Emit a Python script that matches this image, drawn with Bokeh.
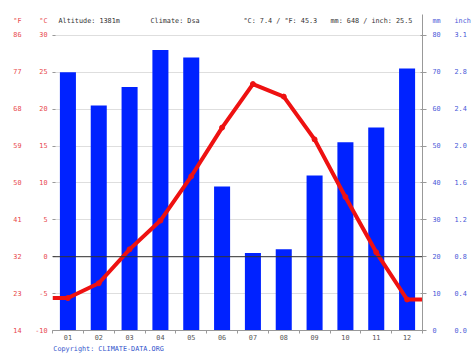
from bokeh.plotting import figure
from bokeh.models import Range1d, LinearAxis, FixedTicker, Span
from bokeh.core.properties import value
from bokeh.embed import file_html
from bokeh.resources import INLINE

months = ["01", "02", "03", "04", "05", "06", "07", "08", "09", "10", "11", "12"]
precip_mm = [70, 61, 66, 76, 74, 39, 21, 22, 42, 51, 55, 71]
temp_c = [-5.6, -3.6, 1.0, 4.9, 10.9, 17.5, 23.4, 21.7, 15.9, 8.1, 0.6, -5.8]
c_ticks = [-10, -5, 0, 5, 10, 15, 20, 25, 30]
f_labels = ["14", "23", "32", "41", "50", "59", "68", "77", "86"]
mm_ticks = [0, 10, 20, 30, 40, 50, 60, 70, 80]
inch_labels = ["0.0", "0.4", "0.8", "1.2", "1.6", "2.0", "2.4", "2.8", "3.1"]
header = ["Altitude: 1381m", "Climate: Dsa", "°C: 7.4 / °F: 45.3", "mm: 648 / inch: 25.5"]
unit_left = ["°F", "°C"]
unit_right = ["mm", "inch"]
copyright_text = "Copyright: CLIMATE-DATA.ORG"

FONT = "DejaVu Sans Mono"
FS = "6.8px"
RED = "#e8474a"
BLUE = "#4a5ad8"
W, H = 474, 355

# layout (pixels): frame 52..422 horizontally, 14..332 vertically; 30°C at 35
PX_PER_C = (332 - 35) / 40.0
C_TOP = 30 + (35 - 14) / PX_PER_C          # top of frame in °C
C_HDR = 30 + (35 - 20.5) / PX_PER_C        # header row in °C
MM_PER_C = 80 / 40.0
PX_PER_X = 370 / 12.0

x = list(range(1, 13))
p = figure(width=W, height=H, output_backend="svg", toolbar_location=None,
           x_range=Range1d(0.5, 12.5), y_range=Range1d(-10, C_TOP),
           min_border_left=52, min_border_right=W - 422, min_border_top=14,
           min_border_bottom=H - 332, outline_line_color=None)
p.extra_y_ranges = {"mm": Range1d(0, (C_TOP + 10) * MM_PER_C)}
MM_HDR = (C_HDR + 10) * MM_PER_C

# grid
p.xgrid.visible = False
p.ygrid.ticker = FixedTicker(ticks=c_ticks)
p.ygrid.grid_line_color = "#dedede"
p.ygrid.grid_line_width = 1

# bars
p.vbar(x=x, top=precip_mm, bottom=0, width=0.52, y_range_name="mm",
       color="#0022ff", line_color=None)

p.add_layout(Span(location=0, dimension="width", line_color="#333333", line_width=1))

# temperature line (flat continuation to the frame edges)
lx = [0.5] + x + [12.5]
ly = [temp_c[0]] + temp_c + [temp_c[-1]]
p.line(lx, ly, line_color="#ee1111", line_width=4)
p.scatter(x, temp_c, size=5, color="#ee1111")

# header texts
hx_px = [58, 150, 243, 330]
p.text(x=[0.5 + (h - 52) / PX_PER_X for h in hx_px], y=[C_HDR] * 4, text=header,
       text_font=value(FONT), text_font_size=FS, text_color="#333333",
       text_align="left", text_baseline="middle")

def style(ax, color, standoff):
    ax.axis_line_color = None
    ax.major_tick_line_color = None
    ax.major_tick_out = 0
    ax.major_tick_in = 0
    ax.minor_tick_line_color = None
    ax.major_label_standoff = standoff
    ax.major_label_text_font = FONT
    ax.major_label_text_font_size = FS
    ax.major_label_text_color = color

p.axis.visible = False

# bottom axis with copyright as axis label
xa = LinearAxis(ticker=FixedTicker(ticks=x, minor_ticks=[i + 0.5 for i in range(0, 13)]),
                major_label_overrides={i + 1: m for i, m in enumerate(months)})
style(xa, "#555555", 1)
xa.axis_line_color = "#999999"
xa.minor_tick_line_color = "#999999"
xa.minor_tick_out = 3
xa.minor_tick_in = 0
pad = int(round((2 * (237 - 52)) / (0.602 * 6.8))) - len(copyright_text)
xa.axis_label = copyright_text + "\u00a0" * max(pad, 0)
xa.axis_label_text_font = FONT
xa.axis_label_text_font_size = FS
xa.axis_label_text_font_style = "normal"
xa.axis_label_text_color = "#3355cc"
xa.axis_label_standoff = 2
p.add_layout(xa, "below")

ca = LinearAxis(ticker=FixedTicker(ticks=c_ticks + [C_HDR], minor_ticks=c_ticks),
                major_label_overrides={**{t: str(t) for t in c_ticks}, C_HDR: unit_left[1]})
style(ca, RED, 5)
ca.minor_tick_line_color = "#999999"
ca.minor_tick_out = 0
ca.minor_tick_in = 3
p.add_layout(ca, "left")

fa = LinearAxis(ticker=FixedTicker(ticks=c_ticks + [C_HDR]),
                major_label_overrides={**{t: l for t, l in zip(c_ticks, f_labels)},
                                       C_HDR: unit_left[0]})
style(fa, RED, 11)
p.add_layout(fa, "left")

ma = LinearAxis(y_range_name="mm", ticker=FixedTicker(ticks=mm_ticks + [MM_HDR], minor_ticks=mm_ticks),
                major_label_overrides={**{t: str(t) for t in mm_ticks}, MM_HDR: unit_right[0]})
style(ma, BLUE, 6)
ma.axis_line_color = "#999999"
ma.minor_tick_line_color = "#999999"
ma.minor_tick_out = 4
ma.minor_tick_in = 2
p.add_layout(ma, "right")

ia = LinearAxis(y_range_name="mm", ticker=FixedTicker(ticks=mm_ticks + [MM_HDR]),
                major_label_overrides={**{t: l for t, l in zip(mm_ticks, inch_labels)},
                                       MM_HDR: unit_right[1]})
style(ia, BLUE, 11)
p.add_layout(ia, "right")

open("out.html", "w").write(file_html(p, INLINE))
